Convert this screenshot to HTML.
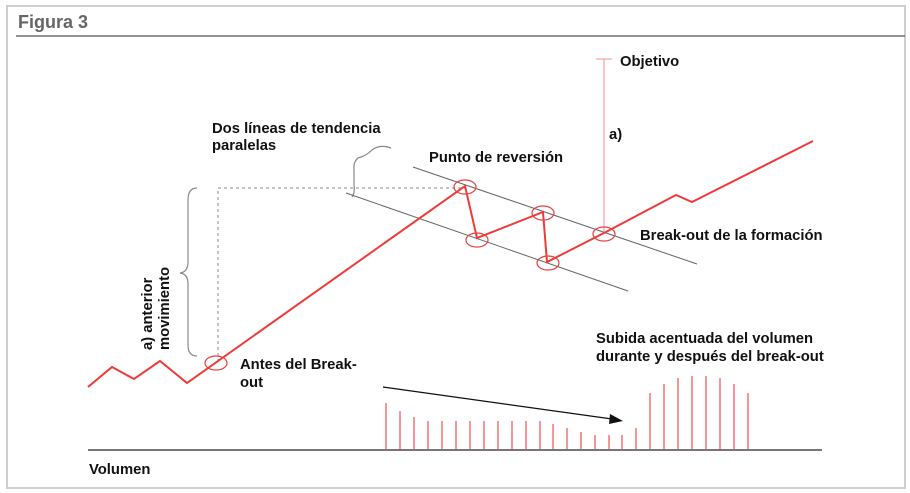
<!DOCTYPE html>
<html><head><meta charset="utf-8"><style>
html,body{margin:0;padding:0;background:#fff;}
svg{display:block;}
text{font-family:"Liberation Sans",Arial,sans-serif;font-weight:bold;font-size:14.8px;fill:#111;}
</style></head><body>
<svg width="910" height="493" viewBox="0 0 910 493" xmlns="http://www.w3.org/2000/svg">
<rect x="7" y="6" width="898" height="482" fill="#fff" stroke="#cfcfcf" stroke-width="2"/>
<text x="18" y="28" style="font-size:18px;fill:#666">Figura 3</text>
<line x1="16" y1="36" x2="905" y2="36" stroke="#555" stroke-width="1.2"/>
<path d="M218 362 V188 H465" fill="none" stroke="#888" stroke-dasharray="3,3" stroke-width="1"/>
<path d="M197 188 Q188 188 188 200 V262 Q188 272 180 273 Q188 274 188 284 V345 Q188 356 197 356" fill="none" stroke="#888" stroke-width="1.2"/>
<path d="M352 197 Q355 193 354 185 V170 Q353 162 358 158 Q366 156 372 150 Q380 144 391 148" fill="none" stroke="#888" stroke-width="1.2"/>
<line x1="413" y1="167" x2="697" y2="264" stroke="#666" stroke-width="1"/>
<line x1="346" y1="193" x2="628" y2="291" stroke="#666" stroke-width="1"/>
<line x1="604" y1="59" x2="604" y2="233" stroke="#f7a0a0" stroke-width="1.2"/>
<line x1="596" y1="59" x2="612" y2="59" stroke="#f7a0a0" stroke-width="1.2"/>
<polyline points="88,387 112,367 134,379 160,361 187,383 465,186 477,238 543,212 547,262 604,233 676,195 692,202 813,141" fill="none" stroke="#f03a3a" stroke-width="2"/>
<g fill="none" stroke="#e84040" stroke-width="1.2">
<ellipse cx="216" cy="363" rx="11" ry="7"/>
<ellipse cx="465" cy="187" rx="11" ry="7"/>
<ellipse cx="477" cy="240" rx="11" ry="7"/>
<ellipse cx="543" cy="213" rx="11" ry="7"/>
<ellipse cx="548" cy="263" rx="11" ry="7"/>
<ellipse cx="604" cy="234" rx="11" ry="7"/>
</g>
<line x1="383" y1="387" x2="612" y2="419" stroke="#111" stroke-width="1.2"/>
<polygon points="623,421 610,414 609,424" fill="#111"/>
<g stroke="#f05050" stroke-width="1.2">
<line x1="386" y1="449" x2="386" y2="403"/>
<line x1="400" y1="449" x2="400" y2="411"/>
<line x1="414" y1="449" x2="414" y2="417"/>
<line x1="428" y1="449" x2="428" y2="421"/>
<line x1="442" y1="449" x2="442" y2="421"/>
<line x1="456" y1="449" x2="456" y2="421"/>
<line x1="470" y1="449" x2="470" y2="421"/>
<line x1="484" y1="449" x2="484" y2="421"/>
<line x1="498" y1="449" x2="498" y2="421"/>
<line x1="512" y1="449" x2="512" y2="421"/>
<line x1="526" y1="449" x2="526" y2="421"/>
<line x1="540" y1="449" x2="540" y2="421"/>
<line x1="553" y1="449" x2="553" y2="424"/>
<line x1="567" y1="449" x2="567" y2="428"/>
<line x1="581" y1="449" x2="581" y2="432"/>
<line x1="595" y1="449" x2="595" y2="435"/>
<line x1="609" y1="449" x2="609" y2="435"/>
<line x1="622" y1="449" x2="622" y2="435"/>
<line x1="636" y1="449" x2="636" y2="428"/>
<line x1="650" y1="449" x2="650" y2="393"/>
<line x1="664" y1="449" x2="664" y2="384"/>
<line x1="678" y1="449" x2="678" y2="378"/>
<line x1="692" y1="449" x2="692" y2="376"/>
<line x1="706" y1="449" x2="706" y2="376"/>
<line x1="720" y1="449" x2="720" y2="378"/>
<line x1="734" y1="449" x2="734" y2="384"/>
<line x1="748" y1="449" x2="748" y2="393"/>
</g>
<line x1="88" y1="450" x2="822" y2="450" stroke="#777" stroke-width="2"/>
<text x="212" y="133">Dos líneas de tendencia</text>
<text x="212" y="150">paralelas</text>
<text x="429" y="162">Punto de reversión</text>
<text x="620" y="66">Objetivo</text>
<text x="609" y="139">a)</text>
<text x="640" y="240">Break-out de la formación</text>
<text x="240" y="369">Antes del Break-</text>
<text x="240" y="387">out</text>
<text x="596" y="343">Subida acentuada del volumen</text>
<text x="596" y="361">durante y después del break-out</text>
<text x="89" y="474">Volumen</text>
<text transform="translate(152,350) rotate(-90)">a) anterior</text>
<text transform="translate(169,350) rotate(-90)">movimiento</text>
</svg>
</body></html>
